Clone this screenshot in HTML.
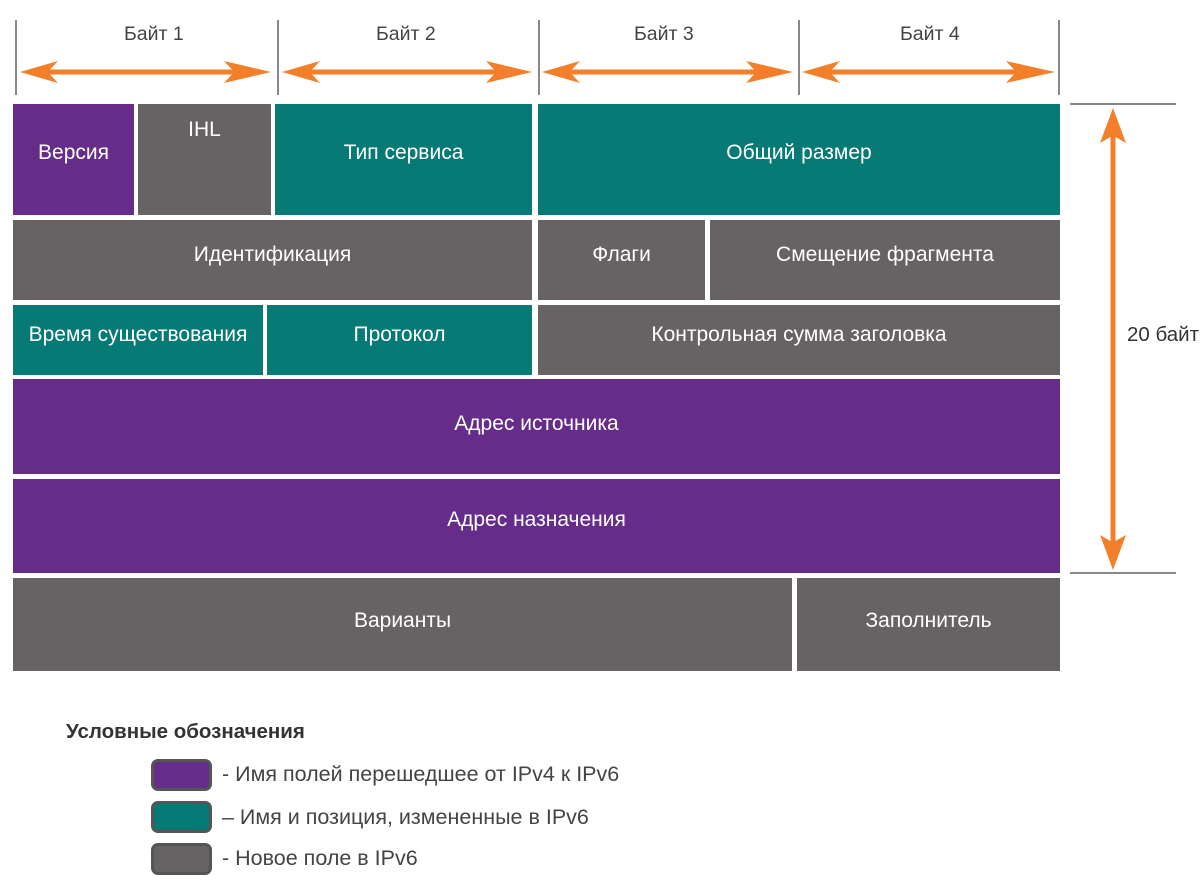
<!DOCTYPE html>
<html><head><meta charset="utf-8"><style>
body{margin:0;width:1204px;height:885px;background:#fff;position:relative;overflow:hidden;font-family:"Liberation Sans",sans-serif}
.b{position:absolute;color:#fff;font-size:21px;display:flex;align-items:center;justify-content:center;text-align:center;box-sizing:border-box;padding-bottom:10px}
.p{background:#652c8a}.t{background:#087a76}.g{background:#676263}
.l{position:absolute;font-size:19.5px;color:#444}
.lg{position:absolute;left:151px;width:55px;height:26px;border:3px solid #555;border-radius:7px}
.lt{position:absolute;left:222px;font-size:21.5px;color:#444}
</style></head><body>
<svg width="1204" height="885" style="position:absolute;left:0;top:0">
<g stroke="#888" stroke-width="2">
<line x1="16" y1="20" x2="16" y2="95"/><line x1="278" y1="20" x2="278" y2="95"/>
<line x1="539" y1="20" x2="539" y2="95"/><line x1="799" y1="20" x2="799" y2="95"/>
<line x1="1059" y1="20" x2="1059" y2="95"/>
<line x1="1070" y1="104" x2="1176" y2="104"/><line x1="1070" y1="573" x2="1176" y2="573"/>
</g>
<g fill="#f47f2a">
<path d="M20 72 L58 61 L50 69.5 L232 69.5 L224 61 L271 72 L224 83 L232 74.5 L50 74.5 L58 83Z"/>
<path d="M282 72 L320 61 L312 69.5 L494 69.5 L486 61 L532 72 L486 83 L494 74.5 L312 74.5 L320 83Z"/>
<path d="M542 72 L580 61 L572 69.5 L754 69.5 L746 61 L793 72 L746 83 L754 74.5 L572 74.5 L580 83Z"/>
<path d="M802 72 L840 61 L832 69.5 L1014 69.5 L1006 61 L1055 72 L1006 83 L1014 74.5 L832 74.5 L840 83Z"/>
<path d="M1113 108 L1126 143 L1115.5 137 L1115.5 541 L1126 535 L1113 570 L1100 535 L1110.5 541 L1110.5 137 L1100 143Z"/>
</g>
</svg>
<div class="l" style="left:124px;top:23px">Байт 1</div>
<div class="l" style="left:376px;top:23px">Байт 2</div>
<div class="l" style="left:634px;top:23px">Байт 3</div>
<div class="l" style="left:900px;top:23px">Байт 4</div>
<div class="l" style="left:1127px;top:323px;color:#333;font-size:20.5px">20 байт</div>

<div class="b p" style="left:13px;top:104px;width:121px;height:111px;padding-bottom:14px">Версия</div>
<div class="b g" style="left:138px;top:104px;width:133px;height:111px;align-items:flex-start;padding-top:14px">IHL</div>
<div class="b t" style="left:275px;top:104px;width:257px;height:111px;padding-bottom:14px">Тип сервиса</div>
<div class="b t" style="left:538px;top:104px;width:522px;height:111px;padding-bottom:14px">Общий размер</div>

<div class="b g" style="left:13px;top:220px;width:519px;height:80px">Идентификация</div>
<div class="b g" style="left:538px;top:220px;width:167px;height:80px">Флаги</div>
<div class="b g" style="left:710px;top:220px;width:350px;height:80px">Смещение фрагмента</div>

<div class="b t" style="left:13px;top:305px;width:250px;height:70px">Время существования</div>
<div class="b t" style="left:267px;top:305px;width:265px;height:70px">Протокол</div>
<div class="b g" style="left:538px;top:305px;width:522px;height:70px">Контрольная сумма заголовка</div>

<div class="b p" style="left:13px;top:379px;width:1047px;height:95px;padding-bottom:6px">Адрес источника</div>
<div class="b p" style="left:13px;top:479px;width:1047px;height:94px;padding-bottom:12px">Адрес назначения</div>

<div class="b g" style="left:13px;top:578px;width:779px;height:93px;padding-bottom:8px">Варианты</div>
<div class="b g" style="left:797px;top:578px;width:263px;height:93px;padding-bottom:8px">Заполнитель</div>

<div style="position:absolute;left:66px;top:720px;font-size:20.5px;font-weight:bold;color:#333">Условные обозначения</div>
<div class="lg p" style="top:759px"></div>
<div class="lt" style="top:762px">- Имя полей перешедшее от IPv4 к IPv6</div>
<div class="lg t" style="top:801px"></div>
<div class="lt" style="top:805px">– Имя и позиция, измененные в IPv6</div>
<div class="lg g" style="top:843px"></div>
<div class="lt" style="top:846px">- Новое поле в IPv6</div>
</body></html>
